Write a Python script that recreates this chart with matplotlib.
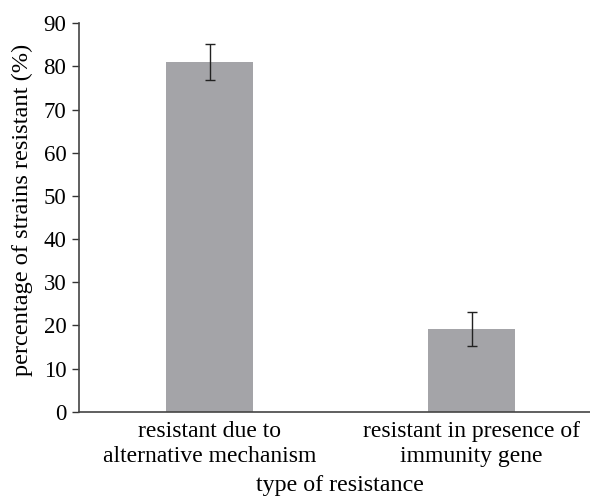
import matplotlib
matplotlib.use("Agg")
import matplotlib.pyplot as plt

categories = ["resistant due to\nalternative mechanism", "resistant in presence of\nimmunity gene"]
values = [81.0, 19.2]
errors = [4.1, 4.0]
yticks = [0, 10, 20, 30, 40, 50, 60, 70, 80, 90]

plt.rcParams['font.family'] = ['Liberation Serif', 'DejaVu Serif']

fig = plt.figure(figsize=(5.9, 4.97), dpi=100)
ax = fig.add_axes([79/590, 1 - 411.7/497, 1 - 79/590, (411.7 - 23.3)/497])

x = list(range(len(categories)))
ax.bar(x, values, width=0.332, color='#a4a4a8', yerr=errors,
       error_kw=dict(ecolor='#222222', elinewidth=1.0, capsize=3.5, capthick=1.0))

ax.set_ylim(0, 90)
ax.set_xlim(-0.498, 1.452)
ax.set_yticks(yticks)
ax.set_xticks(x)
ax.set_xticklabels(categories, fontsize=17, linespacing=1.2)
ax.tick_params(axis='x', length=0, pad=7)
ax.tick_params(axis='y', length=5, width=1, direction='out', labelsize=16.5, pad=4, color='#333333')
for s in ['top', 'right']:
    ax.spines[s].set_visible(False)
for s in ['left', 'bottom']:
    ax.spines[s].set_color('#444444')
    ax.spines[s].set_linewidth(1.2)

ax.set_ylabel("percentage of strains resistant (%)", fontsize=17.6)
ax.yaxis.set_label_coords(-0.09, 0.52)
ax.set_xlabel("type of resistance", fontsize=17.3)
ax.xaxis.set_label_coords(0.51, -0.163)

fig.savefig("out.png", dpi=100)
